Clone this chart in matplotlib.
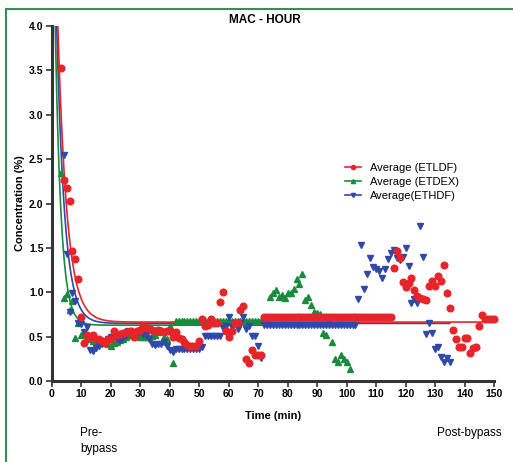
import matplotlib.pyplot as plt
import numpy as np
from matplotlib.lines import Line2D

plt.rcParams['font.family'] = ['Liberation Sans', 'DejaVu Sans']

# ETLDF (red circles), one reading per minute from t=3
red_c = [3.53, 2.26, 2.18, 2.03, 1.46, 1.37, 1.15, 0.72, 0.43, 0.52,
         0.50, 0.52, 0.48, 0.47, 0.45, 0.43, 0.47, 0.48, 0.57, 0.52,
         0.53, 0.54, 0.55, 0.55, 0.57, 0.50, 0.57, 0.58, 0.62, 0.60,
         0.60, 0.58, 0.57, 0.58, 0.57, 0.55, 0.56, 0.56, 0.50, 0.55,
         0.49, 0.48, 0.44, 0.41, 0.40, 0.40, 0.40, 0.45, 0.70, 0.62,
         0.63, 0.70, 0.66, 0.65, 0.89, 1.00, 0.56, 0.50, 0.56, 0.65,
         0.65, 0.80, 0.85, 0.25, 0.20, 0.35, 0.29, 0.29, 0.30,
         0.72, 0.72, 0.72, 0.72, 0.72, 0.72, 0.72, 0.72, 0.72, 0.72,
         0.72, 0.72, 0.72, 0.72, 0.72, 0.72, 0.72, 0.72, 0.72, 0.72,
         0.72, 0.72, 0.72, 0.72, 0.72, 0.72, 0.72, 0.72, 0.72, 0.72,
         0.72, 0.72, 0.72, 0.72, 0.72, 0.72, 0.72, 0.72, 0.72, 0.72,
         0.72, 0.72, 0.72, 0.72,
         1.27, 1.46, 1.39, 1.12, 1.06, 1.10, 1.16, 1.03, 0.96, 0.94,
         0.93, 0.91, 1.07, 1.13, 1.07, 1.18, 1.13, 1.31, 0.99, 0.82,
         0.58, 0.48, 0.39, 0.38, 0.49, 0.49, 0.32, 0.37, 0.39, 0.62,
         0.75, 0.70, 0.70, 0.70, 0.70]
red_t = np.arange(3, 3 + len(red_c))

# ETDEX (green up-triangles), from t=3
green_c = [2.34, 0.94, 0.98, 0.80, 0.90, 0.49, 0.66, 0.52, 0.54, 0.50,
           0.48, 0.45, 0.47, 0.43, 0.44, 0.45, 0.42, 0.40, 0.43, 0.44,
           0.46, 0.48, 0.50, 0.52, 0.52, 0.55, 0.52, 0.50, 0.50, 0.50,
           0.50, 0.51, 0.52, 0.55, 0.58, 0.50, 0.48, 0.62, 0.20,
           0.68, 0.68, 0.68, 0.68, 0.68, 0.68, 0.68, 0.68, 0.68, 0.68,
           0.68, 0.68, 0.68, 0.68, 0.68, 0.68, 0.68, 0.68, 0.68, 0.68,
           0.68, 0.68, 0.68, 0.68, 0.68, 0.68, 0.68, 0.68, 0.68, 0.68,
           0.68, 0.68, 0.95, 0.99, 1.03, 0.95, 0.97, 0.94, 0.99, 0.99,
           1.04, 1.15, 1.09, 1.21, 0.91, 0.95, 0.86, 0.78, 0.77, 0.76,
           0.54, 0.52, 0.68, 0.44, 0.25, 0.21, 0.30, 0.25, 0.21, 0.14]
green_t = np.arange(3, 3 + len(green_c))

# ETHDF (blue down-triangles), from t=4
blue_c = [2.55, 1.43, 0.78, 0.99, 0.90, 0.65, 0.64, 0.55, 0.61, 0.35,
          0.34, 0.37, 0.40, 0.42, 0.45, 0.48, 0.50, 0.50, 0.48, 0.46,
          0.49, 0.52, 0.56, 0.55, 0.52, 0.54, 0.55, 0.53, 0.52, 0.48,
          0.42, 0.41, 0.42, 0.42, 0.44, 0.40, 0.35, 0.33,
          0.36, 0.36, 0.36, 0.36, 0.36, 0.36, 0.36, 0.36, 0.36, 0.38,
          0.51, 0.51, 0.51, 0.51, 0.51, 0.51, 0.60, 0.62, 0.72, 0.61,
          0.65, 0.59, 0.65, 0.72, 0.59, 0.62, 0.51, 0.51, 0.40, 0.26,
          0.63, 0.63, 0.63, 0.63, 0.63, 0.63, 0.63, 0.63, 0.63, 0.63,
          0.63, 0.63, 0.63, 0.63, 0.63, 0.63, 0.63, 0.63, 0.63, 0.63,
          0.63, 0.63, 0.63, 0.63, 0.63, 0.63, 0.63, 0.63, 0.63, 0.63,
          0.63, 0.63,
          0.93, 1.53, 1.04, 1.21, 1.39, 1.29, 1.26, 1.24, 1.16, 1.26,
          1.38, 1.44, 1.48, 1.39, 1.36, 1.40, 1.50, 1.30, 0.88, 0.92,
          0.88, 1.75, 1.40, 0.53, 0.65, 0.54, 0.36, 0.39, 0.27, 0.21,
          0.26, 0.21]
blue_t = np.arange(4, 4 + len(blue_c))

# one-phase decay fits: plateau, span, rate, last time
fit_red = (0.665, 6.4, 0.32, 150)
fit_green = (0.63, 6.0, 0.50, 101)
fit_blue = (0.65, 6.2, 0.37, 135)

red = '#e8242b'
green = '#1b8a3c'
blue = '#3048a8'

fig = plt.figure(figsize=(5.13, 4.62), dpi=100)
ax = fig.add_axes([0.101, 0.175, 0.862, 0.769])

def fit_curve(p, col):
    plateau, span, k, tmax = p
    t = np.linspace(1.0, tmax, 600)
    ax.plot(t, plateau + span * np.exp(-k * t), color=col, lw=1.2, zorder=3)

fit_curve(fit_green, green)
fit_curve(fit_blue, blue)
fit_curve(fit_red, red)

ax.plot(green_t, green_c, '^', color=green, ms=4.5, mec=green, ls='none',
        clip_on=False, zorder=4)
ax.plot(blue_t, blue_c, 'v', color=blue, ms=4.5, mec=blue, ls='none',
        clip_on=False, zorder=4)
ax.plot(red_t, red_c, 'o', color=red, ms=4.8, mec=red, ls='none',
        clip_on=False, zorder=5)

ax.set_xlim(0, 150)
ax.set_ylim(0, 4)
ax.set_xticks(np.arange(0, 151, 10))
ax.set_yticks(np.arange(0, 4.01, 0.5))
ax.set_yticklabels([f'{v:.1f}' for v in np.arange(0, 4.01, 0.5)])
for s in ['top', 'right']:
    ax.spines[s].set_visible(False)
for s in ['left', 'bottom']:
    ax.spines[s].set_linewidth(2.2)
    ax.spines[s].set_color('#333333')
ax.tick_params(width=1.2, length=4, color='#333333', labelsize=7.5, pad=2)
for lab in ax.get_xticklabels() + ax.get_yticklabels():
    lab.set_fontweight('bold')

ax.set_ylabel('Concentration (%)', fontsize=8, fontweight='bold', labelpad=3)
ax.set_xlabel('Time (min)', fontsize=8, fontweight='bold', labelpad=8)

handles = [Line2D([], [], color=red, marker='o', ms=3, lw=1.2),
           Line2D([], [], color=green, marker='^', ms=3, lw=1.2),
           Line2D([], [], color=blue, marker='v', ms=3, lw=1.2)]
ax.legend(handles, ['Average (ETLDF)', 'Average (ETDEX)', 'Average(ETHDF)'],
          loc='upper left', bbox_to_anchor=(0.65, 0.63), frameon=False,
          fontsize=8, handlelength=1.5, labelspacing=0.35, borderpad=0,
          handletextpad=0.8)

fig.text(265 / 513, 1 - 20 / 462, 'MAC - HOUR', ha='center', va='center',
         fontsize=8.5, fontweight='bold')
fig.text(80 / 513, 1 - 441 / 462, 'Pre-\nbypass', ha='left', va='center',
         fontsize=8.5, linespacing=1.5)
fig.text(437 / 513, 1 - 433 / 462, 'Post-bypass', ha='left', va='center',
         fontsize=8.5)

# green frame on the left and top
border = '#3a8a5c'
fig.add_artist(Line2D([6 / 513, 6 / 513], [0, 1 - 9 / 462], color=border,
                      lw=1.5, transform=fig.transFigure))
fig.add_artist(Line2D([6 / 513, 1], [1 - 9 / 462, 1 - 9 / 462], color=border,
                      lw=1.5, transform=fig.transFigure))

fig.savefig('out.png', dpi=100)
